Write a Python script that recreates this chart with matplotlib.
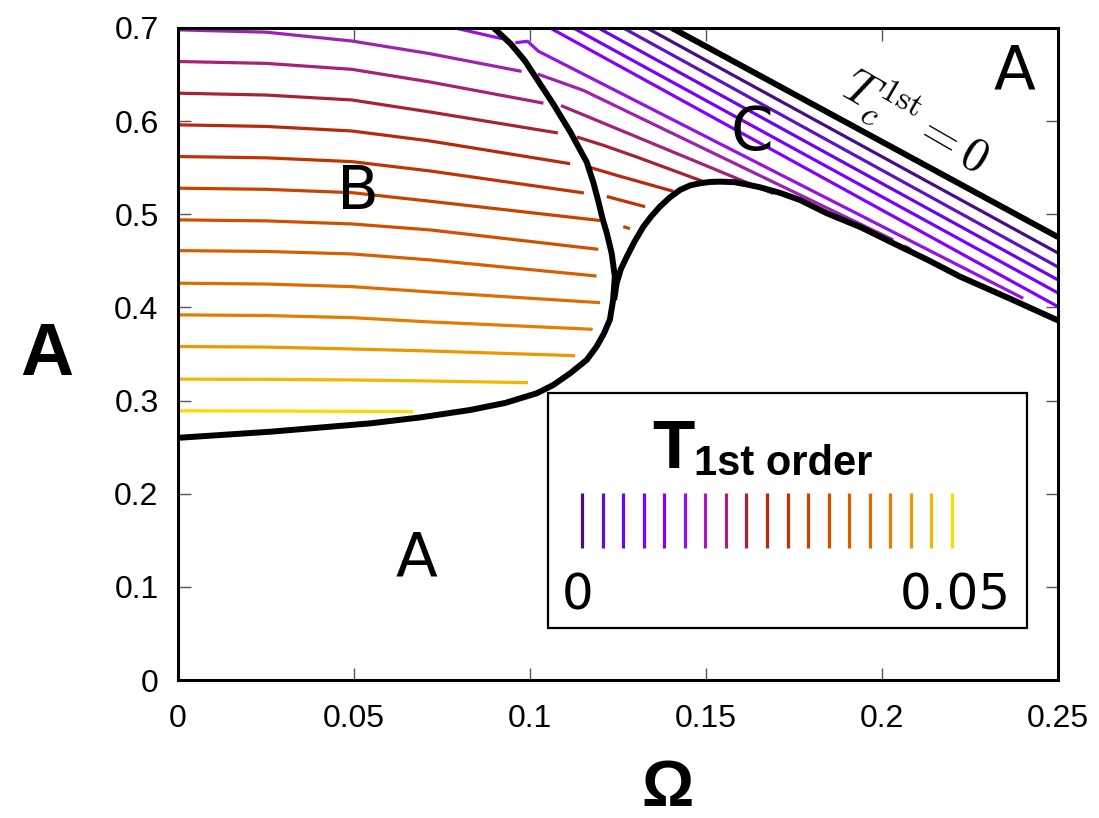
import numpy as np
import matplotlib
matplotlib.use('Agg')
import matplotlib.pyplot as plt
from matplotlib import font_manager
from matplotlib.patches import Rectangle

plt.rcParams['mathtext.fontset'] = 'cm'

# ---------------- data ----------------
# colours of the 19 T_1st levels, from T=0 (dark purple) to T=0.05 (yellow)
level_colors = ['#4a0c86', '#5d12c6', '#6c04ee', '#7a00ff', '#8600ff', '#9614e2',
                '#a020b0', '#a62275', '#a82236', '#b52a0a', '#c03400', '#c84200',
                '#d05000', '#d85e00', '#e06c00', '#e47c00', '#ee9600', '#f4b600', '#fcdc00']

# phase boundary enclosing region B
bcurve_x = [0.0000, 0.0264, 0.0548, 0.0690, 0.0830, 0.0930, 0.1019, 0.1066, 0.1114,
            0.1161, 0.1189, 0.1210, 0.1227, 0.1236, 0.1241, 0.1232, 0.1218, 0.1207,
            0.1194, 0.1180, 0.1161, 0.1115, 0.1065, 0.1025, 0.0985, 0.0945, 0.0897]
bcurve_y = [0.260, 0.2666, 0.2756, 0.2820, 0.2899, 0.2975, 0.3078, 0.3167, 0.3293,
            0.3436, 0.3579, 0.372, 0.387, 0.408, 0.433, 0.458, 0.480, 0.494,
            0.514, 0.534, 0.556, 0.588, 0.619, 0.642, 0.665, 0.683, 0.700]

# lower boundary of region C (bump)
bump_x = [0.1239, 0.1246, 0.1258, 0.1275, 0.1296, 0.1322, 0.1345, 0.1369, 0.1397,
          0.1426, 0.1455, 0.1483, 0.1512, 0.1540, 0.1580, 0.1616, 0.1653, 0.1710,
          0.1767, 0.1843, 0.1940, 0.2032, 0.2130, 0.2222, 0.2360, 0.2500]
bump_y = [0.408, 0.4259, 0.441, 0.4545, 0.470, 0.4867, 0.498, 0.5082, 0.518,
          0.5261, 0.531, 0.5333, 0.5347, 0.5350, 0.5345, 0.5320, 0.5290, 0.5230,
          0.5153, 0.5011, 0.4860, 0.4689, 0.4510, 0.4330, 0.4100, 0.3860]

# T_c^1st = 0 line
tc_x = [0.1403, 0.2500]
tc_y = [0.700, 0.4755]

# contour lines inside region B (levels 7..19)
b_levels = [6, 7, 8, 9, 10, 11, 12, 13, 14, 15, 16, 17, 18]
b_xs = [0.0, 0.025, 0.0494, 0.0716]
b_y0 = [0.698, 0.664, 0.630, 0.596, 0.562, 0.528, 0.494, 0.461, 0.426, 0.392, 0.358, 0.323, 0.289]
b_ya = [0.6955, 0.662, 0.628, 0.5943, 0.5606, 0.5268, 0.4929, 0.4601, 0.4251, 0.3913, 0.3574, 0.3228, 0.2888]
b_y1 = [0.686, 0.6556, 0.6227, 0.5894, 0.5565, 0.5232, 0.4896, 0.4574, 0.4223, 0.3890, 0.3554, 0.3221, 0.2884]
b_y2 = [0.6724, 0.6420, 0.6098, 0.5787, 0.5465, 0.5140, 0.4832, 0.4510, 0.4166, 0.3844, 0.3532, 0.3210, None]
b_xe = [0.0976, 0.1038, 0.1079, 0.1114, 0.1153, 0.1199, 0.1194, 0.1189, 0.1199, 0.1178, 0.1128, 0.0994, 0.0668]
b_ye = [0.6534, 0.6193, 0.5873, 0.5543, 0.5229, 0.4933, 0.4624, 0.4337, 0.4051, 0.3765, 0.3482, 0.3192, 0.2881]

# straight contour lines in region C (levels 1..5)
c_levels = [0, 1, 2, 3, 4]
c_top_x = [0.1332, 0.1265, 0.1194, 0.1123, 0.1057]
c_right_y = [0.4584, 0.4434, 0.4295, 0.4155, 0.4008]

# remaining contour pieces
l6_x = [0.0787, 0.0920];                   l6_y = [0.700, 0.6885]
l6c_x = [0.0958, 0.0993, 0.1024, 0.2401];  l6c_y = [0.6842, 0.6857, 0.6750, 0.4098]
l7c_x = [0.1022, 0.1151, 0.2032];          l7c_y = [0.6505, 0.6331, 0.4724]
l7d_x = [0.2063, 0.2082];                  l7d_y = [0.4660, 0.4621]
l8c_x = [0.1088, 0.1691];                  l8c_y = [0.6167, 0.5223]
l9c_x = [0.1133, 0.1208, 0.1303, 0.1507];  l9c_y = [0.5830, 0.5741, 0.5615, 0.5331]
l10c_x = [0.1166, 0.1246, 0.1407];         l10c_y = [0.5508, 0.5418, 0.5247]
l11c_x = [0.1218, 0.1327];                 l11c_y = [0.5191, 0.5081]
l12c_x = [0.1265, 0.1284];                 l12c_y = [0.4867, 0.4846]

xtick_vals = [0, 0.05, 0.1, 0.15, 0.2, 0.25]
xtick_labels = ['0', '0.05', '0.1', '0.15', '0.2', '0.25']
ytick_vals = [0, 0.1, 0.2, 0.3, 0.4, 0.5, 0.6, 0.7]
ytick_labels = ['0', '0.1', '0.2', '0.3', '0.4', '0.5', '0.6', '0.7']

# ---------------- fonts ----------------
names = {f.name for f in font_manager.fontManager.ttflist}
narrow = 'Liberation Sans Narrow' if 'Liberation Sans Narrow' in names else 'Liberation Sans'

# ---------------- figure ----------------
fig = plt.figure(figsize=(10.99, 8.18), dpi=100)
ax = fig.add_axes([0.162, 0.1687, 0.8007, 0.7971])
ax.set_xlim(0, 0.25)
ax.set_ylim(0, 0.7)

LW = 2.3
kw = dict(lw=LW, solid_capstyle='butt', solid_joinstyle='round', zorder=2)

# B contours
for i, lev in enumerate(b_levels):
    xs = list(b_xs[:3])
    ys = [b_y0[i], b_ya[i], b_y1[i]]
    if b_y2[i] is not None:
        xs.append(b_xs[3]); ys.append(b_y2[i])
    xs.append(b_xe[i]); ys.append(b_ye[i])
    ax.plot(xs, ys, color=level_colors[lev], **kw)

# C straight contours
for i, lev in enumerate(c_levels):
    ax.plot([c_top_x[i], 0.25], [0.7, c_right_y[i]], color=level_colors[lev], **kw)

ax.plot(l6_x, l6_y, color=level_colors[5], **kw)
ax.plot(l6c_x, l6c_y, color=level_colors[5], **kw)
ax.plot(l7c_x, l7c_y, color=level_colors[6], **kw)
ax.plot(l7d_x, l7d_y, color=level_colors[5], **kw)
ax.plot(l8c_x, l8c_y, color=level_colors[7], **kw)
ax.plot(l9c_x, l9c_y, color=level_colors[8], **kw)
ax.plot(l10c_x, l10c_y, color=level_colors[9], **kw)
ax.plot(l11c_x, l11c_y, color=level_colors[10], **kw)
ax.plot(l12c_x, l12c_y, color=level_colors[11], **kw)

# black boundaries
bk = dict(color='black', lw=4.3, solid_capstyle='butt', solid_joinstyle='round', zorder=4)
ax.plot(bcurve_x, bcurve_y, **bk)
ax.plot(bump_x, bump_y, **bk)
ax.plot(tc_x, tc_y, **bk)

# ticks
ax.set_xticks(xtick_vals)
ax.set_xticklabels(xtick_labels, fontfamily=narrow, fontsize=23)
ax.set_yticks(ytick_vals)
ax.set_yticklabels(ytick_labels, fontfamily='Liberation Sans', fontsize=23)
ax.tick_params(axis='both', direction='in', length=9, width=1.0, color='#555555',
               top=True, right=True)
ax.tick_params(axis='y', pad=14)
ax.tick_params(axis='x', pad=17)
for s in ax.spines.values():
    s.set_linewidth(2.2)
    s.set_zorder(6)

# region labels
lab = dict(family='DejaVu Sans', fontsize=44, ha='center', va='center', zorder=7)
ax.text(0.2045, 0.747, 'B', transform=ax.transAxes, **lab)
ax.text(0.652, 0.838, 'C', transform=ax.transAxes, **lab)
ax.text(0.951, 0.932, 'A', transform=ax.transAxes, **lab)
ax.text(0.2705, 0.186, 'A', transform=ax.transAxes, **lab)

ax.text(0.2095, 0.599, r'$T_c^{\mathrm{1st}} = 0$', fontsize=35, rotation=-30,
        ha='center', va='center', rotation_mode='anchor', zorder=7)

# legend box
ax.add_patch(Rectangle((0.4205, 0.0798), 0.544, 0.360, transform=ax.transAxes,
                       facecolor='white', edgecolor='black', lw=1.6, zorder=8))
lx = np.linspace(0.459, 0.8795, len(level_colors))
for xx, col in zip(lx, level_colors):
    ax.plot([xx, xx], [0.2025, 0.2868], transform=ax.transAxes, color=col,
            lw=2.3, solid_capstyle='butt', zorder=9)
ax.text(0.5386, 0.3252, 'T', transform=ax.transAxes, family='Liberation Sans',
        fontweight='bold', fontsize=50, ha='left', va='baseline', zorder=9)
ax.text(0.5864, 0.3144, '1st order', transform=ax.transAxes, family='Liberation Sans',
        fontweight='bold', fontsize=30, ha='left', va='baseline', zorder=9)
ax.text(0.4545, 0.1074, '0', transform=ax.transAxes, family='DejaVu Sans',
        fontsize=36, ha='center', va='baseline', zorder=9)
ax.text(0.883, 0.1074, '0.05', transform=ax.transAxes, family='DejaVu Sans',
        fontsize=36, ha='center', va='baseline', zorder=9)

# axis labels
fig.text(0.0428, 0.566, 'A', family='Liberation Sans', fontweight='bold', fontsize=53,
         ha='center', va='center')
fig.text(0.6078, 0.036, 'Ω', family='Liberation Sans', fontweight='bold', fontsize=47,
         ha='center', va='center')

fig.savefig('out.png', dpi=100)
